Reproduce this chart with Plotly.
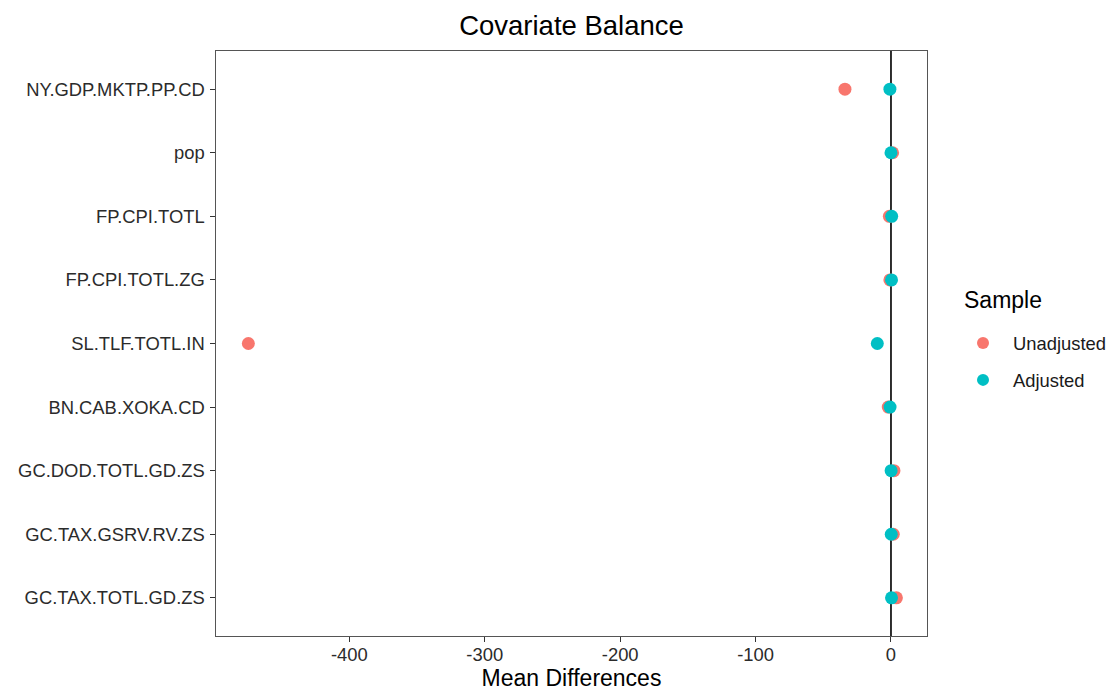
import plotly.graph_objects as go

# Covariates, listed top to bottom
covariates = [
    "NY.GDP.MKTP.PP.CD",
    "pop",
    "FP.CPI.TOTL",
    "FP.CPI.TOTL.ZG",
    "SL.TLF.TOTL.IN",
    "BN.CAB.XOKA.CD",
    "GC.DOD.TOTL.GD.ZS",
    "GC.TAX.GSRV.RV.ZS",
    "GC.TAX.TOTL.GD.ZS",
]

# Mean differences before and after adjustment
unadjusted = [-34.0, 1.2, -1.2, -0.8, -474.6, -2.0, 2.2, 1.7, 4.0]
adjusted = [-0.8, 0.0, 0.5, 0.4, -10.1, -0.7, 0.1, 0.2, 0.4]

x_tickvals = [-400, -300, -200, -100, 0]
x_ticktext = ["-400", "-300", "-200", "-100", "0"]

FONT = "Liberation Sans, Arial, Helvetica, sans-serif"
RED = "#F8766D"
TEAL = "#00BFC4"

W, H = 1112, 695
ML, MR, MT, MB = 216, 185, 51, 59
PW, PH = W - ML - MR, H - MT - MB


def px_x(px):
    """Pixel column -> paper x."""
    return (px - ML) / PW


def px_y(py):
    """Pixel row -> paper y."""
    return 1 - (py - MT) / PH


fig = go.Figure()

fig.add_trace(go.Scatter(
    x=unadjusted, y=covariates, mode="markers", name="Unadjusted",
    marker=dict(color=RED, size=13, line=dict(width=0)),
    legendgroup="u",
))
fig.add_trace(go.Scatter(
    x=adjusted, y=covariates, mode="markers", name="Adjusted",
    marker=dict(color=TEAL, size=13, line=dict(width=0)),
    legendgroup="a",
))

# reference line at zero difference
fig.add_shape(
    type="line", xref="x", yref="paper", x0=0, x1=0, y0=0, y1=1,
    line=dict(color="#1a1a1a", width=1.8), layer="below",
)

# legend heading
fig.add_annotation(
    text="Sample", xref="paper", yref="paper",
    x=px_x(962), y=px_y(300), xanchor="left", yanchor="middle",
    showarrow=False, font=dict(size=23, color="#000000", family=FONT),
)

fig.update_layout(
    width=W, height=H,
    margin=dict(l=ML, r=MR, t=MT, b=MB, autoexpand=False),
    paper_bgcolor="white", plot_bgcolor="white",
    font=dict(family=FONT, color="#1a1a1a"),
    title=dict(
        text="Covariate Balance", x=571.5 / W, xanchor="center",
        y=1 - 25 / H, yanchor="middle", yref="container",
        font=dict(size=27.5, color="#000000", family=FONT),
    ),
    xaxis=dict(
        range=[-498.5, 26.6], tickvals=x_tickvals, ticktext=x_ticktext,
        showgrid=False, zeroline=False, automargin=False,
        showline=True, mirror=True, linecolor="#555555", linewidth=1.1,
        ticks="outside", ticklen=4.5, tickwidth=1.1, tickcolor="#333333",
        tickfont=dict(size=18.4, color="#2b2b2b", family=FONT),
        ticklabelstandoff=-3,
        title=dict(text="Mean Differences", standoff=6,
                   font=dict(size=23, color="#000000", family=FONT)),
    ),
    yaxis=dict(
        categoryorder="array", categoryarray=covariates,
        range=[8.6, -0.6], automargin=False,
        showgrid=False, zeroline=False,
        showline=True, mirror=True, linecolor="#555555", linewidth=1.1,
        ticks="outside", ticklen=4.5, tickwidth=1.1, tickcolor="#333333",
        tickfont=dict(size=18.4, color="#2b2b2b", family=FONT),
        ticklabelstandoff=2,
    ),
    legend=dict(
        font=dict(size=18.4, color="#1a1a1a", family=FONT),
        x=px_x(953), xanchor="left",
        y=px_y(361.5), yanchor="middle",
        tracegroupgap=10,
        bgcolor="rgba(0,0,0,0)",
        itemsizing="constant",
        itemwidth=50,
    ),
)

fig.write_html("out.html")
